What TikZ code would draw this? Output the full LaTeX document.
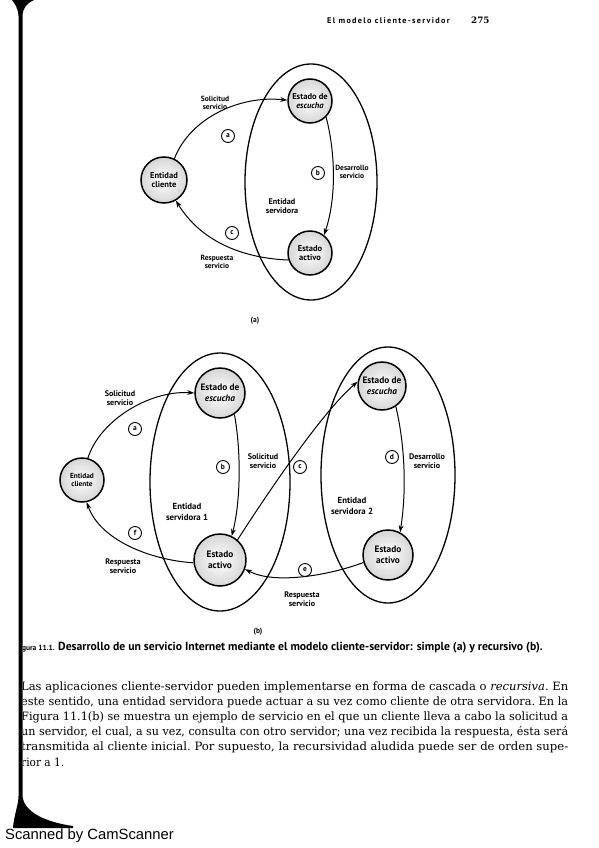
\documentclass[tikz,border=0pt]{standalone}
\usepackage{fontspec}
\usepackage{graphicx}
\usetikzlibrary{shapes.geometric,arrows.meta}
\newfontfamily\labf{PT Sans}
\newfontfamily\bodyf{DejaVu Serif}
\newfontfamily\scanf{Liberation Sans}
\newfontfamily\hdrf[LetterSpace=16]{PT Sans}
\newfontfamily\numf{DejaVu Serif}
\tikzset{
  state/.style={circle, draw, line width=1.5pt, inner sep=0pt, inner color=white, outer color=black!16, align=center},
  serv/.style={ellipse, draw, line width=1.3pt, inner sep=0pt},
  conn/.style={line width=1pt, -{Stealth[length=7pt,width=4.8pt]}},
  elabel/.style={align=center, inner sep=0pt},
  lcirc/.style={circle, draw, line width=0.9pt, minimum size=13pt, inner sep=0pt, font=\labf\bfseries\fontsize{7.5}{8}\selectfont},
  bline/.style={anchor=base west, inner sep=0pt},
}
\newcommand{\fa}{\labf\bfseries\fontsize{7.5}{8.2}\selectfont}
\newcommand{\fb}{\labf\bfseries\fontsize{8.1}{9}\selectfont}
\newcommand{\bodyset}{\bodyf\fontsize{11.5}{13}\selectfont\frenchspacing}
\newcommand{\bl}[1]{\resizebox{547pt}{\height}{\hbox{\bodyset #1}}}
\begin{document}
\begin{tikzpicture}[x=1pt,y=-1pt]
\useasboundingbox (0,0) rectangle (599,848);
\fill[white] (0,0) rectangle (599,848);

% header
\node[anchor=base west, inner sep=0pt, font=\hdrf\bfseries\fontsize{8.2}{9}\selectfont] (hdr) at (327,24) {El modelo cliente-servidor};
\node[anchor=base west, inner sep=0pt, font=\numf\bfseries\fontsize{8.8}{9}\selectfont] (pg) at (471,24) {275};

% ---------- (a) ----------
\node[serv, minimum width=132pt, minimum height=236pt] (ella) at (311,182) {};
\node[state, minimum size=44pt, font=\labf\bfseries\fontsize{8.5}{9.6}\selectfont] (esca) at (310,101) {Estado de\\\textit{escucha}};
\node[state, minimum size=44pt, font=\labf\bfseries\fontsize{8.5}{9.6}\selectfont] (acta) at (310,253) {Estado\\activo};
\node[state, minimum size=46pt, font=\labf\bfseries\fontsize{8.5}{9.6}\selectfont] (clia) at (164,180) {Entidad\\cliente};

\draw[conn] (clia.64) .. controls (190,118) and (240,95) .. (esca.178);
\draw[conn] (esca.-45) .. controls (336,155) and (336,200) .. (acta.52);
\draw[conn] (acta.198) .. controls (240,258) and (200,240) .. (clia.-60);

\node[lcirc] (la) at (228,136) {a};
\node[lcirc] (lb) at (318,173) {b};
\node[lcirc] (lc) at (232,233) {c};
\node[elabel, font=\fa] (sola) at (215,103) {Solicitud\\servicio};
\node[elabel, font=\fa] (desa) at (352,172) {Desarrollo\\servicio};
\node[elabel, font=\labf\bfseries\fontsize{8.2}{9.6}\selectfont] (enta) at (282,206) {Entidad\\servidora};
\node[elabel, font=\fa] (resa) at (217,262) {Respuesta\\servicio};
\node[elabel, font=\labf\bfseries\fontsize{7.5}{8}\selectfont] (capa) at (255,321) {(a)};

% ---------- (b) ----------
\node[serv, minimum width=140pt, minimum height=258pt] (ell1) at (220,482) {};
\node[serv, minimum width=134pt, minimum height=256pt] (ell2) at (388,475) {};
\node[state, minimum size=50pt, font=\labf\bfseries\fontsize{9.3}{11}\selectfont] (esc1) at (220,393) {Estado de\\\textit{escucha}};
\node[state, minimum size=52pt, font=\labf\bfseries\fontsize{9.3}{11}\selectfont] (act1) at (220,560) {Estado\\activo};
\node[state, minimum size=44pt, font=\labf\bfseries\fontsize{7.3}{8.6}\selectfont] (clib) at (82,480) {Entidad\\cliente};
\node[state, minimum size=48pt, font=\labf\bfseries\fontsize{9.3}{11}\selectfont] (esc2) at (382,386) {Estado de\\\textit{escucha}};
\node[state, minimum size=50pt, font=\labf\bfseries\fontsize{9.3}{11}\selectfont] (act2) at (388,555) {Estado\\activo};

\draw[conn] (clib.75) .. controls (100,420) and (150,390) .. (esc1.180);
\draw[conn] (esc1.-56) .. controls (241,450) and (241,500) .. (act1.64);
\draw[conn] (act1.49) .. controls (265,497) and (322,412) .. (esc2.170);
\draw[conn] (esc2.-56) .. controls (406,450) and (406,495) .. (act2.62);
\draw[conn] (act2.197) .. controls (330,575) and (275,585) .. (act1.-20);
\draw[conn] (act1.186) .. controls (150,560) and (100,540) .. (clib.-78);

\node[lcirc] (lba) at (135,429) {a};
\node[lcirc] (lbb) at (223,467) {b};
\node[lcirc] (lbc) at (300,467) {c};
\node[lcirc] (lbd) at (392,457) {d};
\node[lcirc] (lbe) at (305,570) {e};
\node[lcirc] (lbf) at (135,533) {f};
\node[elabel, font=\fb] (solb1) at (120,398) {Solicitud\\servicio};
\node[elabel, font=\fb] (solb2) at (263,461) {Solicitud\\servicio};
\node[elabel, font=\fb] (desb) at (427,461) {Desarrollo\\servicio};
\node[elabel, font=\labf\bfseries\fontsize{8.8}{10.5}\selectfont] (ent1) at (187,512) {Entidad\\servidora 1};
\node[elabel, font=\labf\bfseries\fontsize{8.8}{10.5}\selectfont] (ent2) at (352,506) {Entidad\\servidora 2};
\node[elabel, font=\fb] (resb1) at (123,566) {Respuesta\\servicio};
\node[elabel, font=\fb] (resb2) at (302,599) {Respuesta\\servicio};
\node[elabel, font=\labf\bfseries\fontsize{7.5}{8}\selectfont] (capb) at (258,632) {(b)};

% ---------- caption and text ----------
\begin{scope}
\clip (23,0) rectangle (599,848);
\node[anchor=base east, inner sep=0pt, font=\labf\bfseries\fontsize{7.5}{8}\selectfont] (fig) at (55,650) {Figura 11.1.};
\node[anchor=base west, inner sep=0pt, font=\labf\bfseries\fontsize{11.7}{12}\selectfont] (cap) at (58,650) {Desarrollo de un servicio Internet mediante el modelo cliente-servidor: simple (a) y recursivo (b).};
\node[bline] (l1) at (21,690) {\bl{Las aplicaciones cliente-servidor pueden implementarse en forma de cascada o \textit{recursiva}. En}};
\node[bline] (l2) at (21,705.2) {\bl{este sentido, una entidad servidora puede actuar a su vez como cliente de otra servidora. En la}};
\node[bline] (l3) at (21,720.4) {\bl{Figura 11.1(b) se muestra un ejemplo de servicio en el que un cliente lleva a cabo la solicitud a}};
\node[bline] (l4) at (21,735.6) {\bl{un servidor, el cual, a su vez, consulta con otro servidor; una vez recibida la respuesta, ésta será}};
\node[bline] (l5) at (21,750.8) {\bl{transmitida al cliente inicial. Por supuesto, la recursividad aludida puede ser de orden supe-}};
\node[bline] (l6) at (21,766) {\scalebox{0.92}[1]{\hbox{\bodyset rior a 1.}}};
\end{scope}

% binding edge
\fill (12,0) -- (34,0) .. controls (26,4) and (23,8) .. (22.5,16) -- (22.5,796)
  .. controls (24,812) and (45,822) .. (73,826) -- (73,828) -- (13,828)
  .. controls (14,815) and (18.5,805) .. (18.5,796) -- (18.5,16)
  .. controls (18,8) and (15,4) .. (12,0) -- cycle;

\node[anchor=base west, inner sep=0pt, font=\scanf\fontsize{14.8}{16}\selectfont] (scan) at (5,839) {Scanned by CamScanner};
\end{tikzpicture}
\end{document}
